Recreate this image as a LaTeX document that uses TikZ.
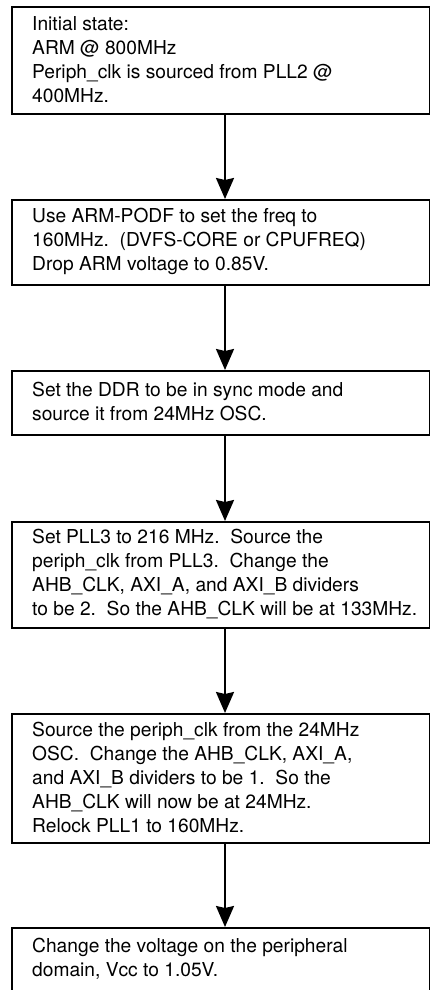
\documentclass[tikz,border=0pt]{standalone}
\usepackage{fontspec}
\setmainfont{TeX Gyre Heros}
\usetikzlibrary{arrows.meta}
\begin{document}
\begin{tikzpicture}[x=1pt,y=-1pt,
  box/.style={draw=black,line width=2pt,fill=none},
  txt/.style={anchor=north west,inner sep=0pt,align=left,
    font=\fontsize{19.2}{24}\selectfont},
  flow/.style={line width=2pt,-{Stealth[length=21pt,width=18pt,inset=2pt]}}]
\useasboundingbox[fill=white] (0,0) rectangle (430,990);
\newcommand{\fs}{\rule{0pt}{18pt}}
% boxes
\node[box,minimum width=418pt,minimum height=107pt,inner sep=0pt,anchor=north west] (b1) at (10.5,6) {};
\node[box,minimum width=418pt,minimum height=85pt,inner sep=0pt,anchor=north west] (b2) at (10.5,199) {};
\node[box,minimum width=418pt,minimum height=64pt,inner sep=0pt,anchor=north west] (b3) at (10.5,370) {};
\node[box,minimum width=418pt,minimum height=106pt,inner sep=0pt,anchor=north west] (b4) at (10.5,521) {};
\node[box,minimum width=418pt,minimum height=129pt,inner sep=0pt,anchor=north west] (b5) at (10.5,713) {};
\node[box,minimum width=418pt,minimum height=90pt,inner sep=0pt,anchor=north west] (b6) at (10.5,927) {};
% texts
\node[txt] (t1) at (32,30.7-18) {\fs Initial state:\\ARM @ 800MHz\\Periph\_clk is sourced from PLL2 @\\400MHz.};
\node[txt] (t2) at (32,222.5-18) {\fs Use ARM-PODF to set the freq to\\160MHz.\ \ (DVFS-CORE or CPUFREQ)\\Drop ARM voltage to 0.85V.};
\node[txt] (t3) at (32,396.7-18) {\fs Set the DDR to be in sync mode and\\source it from 24MHz OSC.};
\node[txt] (t4) at (32,543.3-18) {\fs Set PLL3 to 216 MHz.\ \ Source the\\periph\_clk from PLL3.\ \ Change the\\AHB\_CLK, AXI\_A, and AXI\_B dividers\\to be 2.\ \ So the AHB\_CLK will be at 133MHz.};
\node[txt] (t5) at (32,736-18) {\fs Source the periph\_clk from the 24MHz\\OSC.\ \ Change the AHB\_CLK, AXI\_A,\\and AXI\_B dividers to be 1.\ \ So the\\AHB\_CLK will now be at 24MHz.\\Relock PLL1 to 160MHz.};
\node[txt] (t6) at (32,952.3-18) {\fs Change the voltage on the peripheral\\domain, Vcc to 1.05V.};
% connectors
\draw[flow] (b1.south -| 225,0) -- (b2.north -| 225,0);
\draw[flow] (b2.south -| 225,0) -- (b3.north -| 225,0);
\draw[flow] (b3.south -| 225,0) -- (b4.north -| 225,0);
\draw[flow] (b4.south -| 225,0) -- (b5.north -| 225,0);
\draw[flow] (b5.south -| 225,0) -- (b6.north -| 225,0);
\end{tikzpicture}
\end{document}
